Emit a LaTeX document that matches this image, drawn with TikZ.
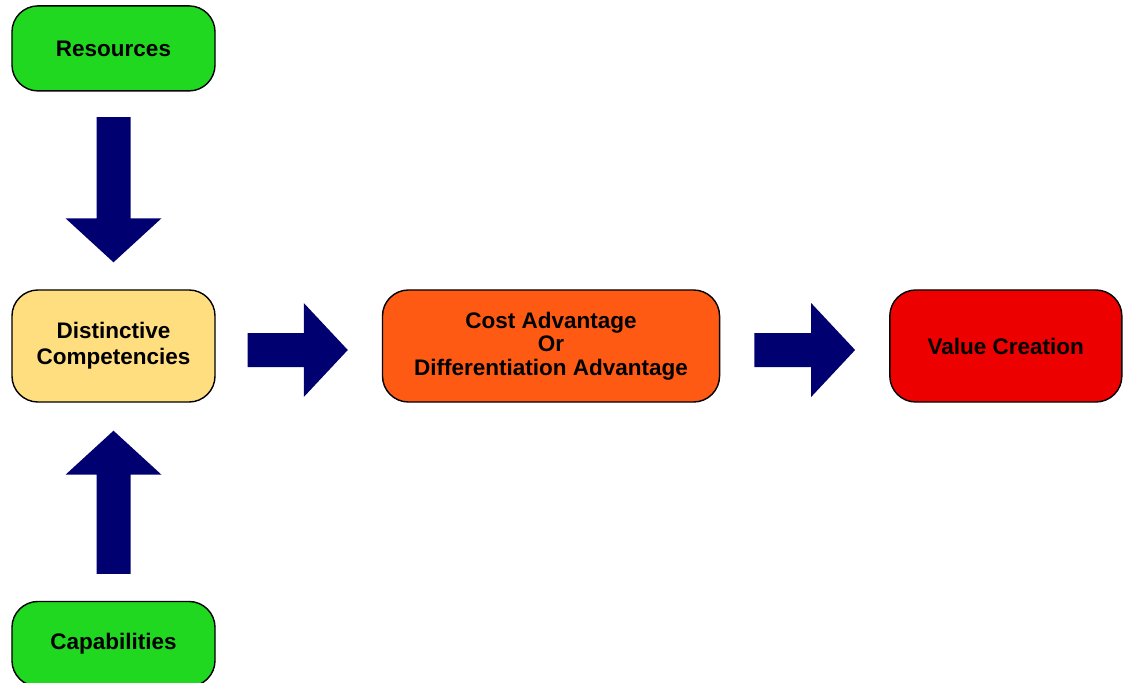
\documentclass[tikz,border=0pt]{standalone}
\usepackage{fontspec}
\setmainfont{Liberation Sans}
\usetikzlibrary{positioning,calc}
\definecolor{resgreen}{RGB}{32,216,32}
\definecolor{compyellow}{RGB}{255,222,128}
\definecolor{advorange}{RGB}{255,90,20}
\definecolor{valred}{RGB}{236,0,0}
\definecolor{arrownavy}{RGB}{0,0,112}
\tikzset{
  basic/.style     = {draw, line width=1pt, rounded corners=0.65cm, align=center,
                      minimum width=5.075cm, minimum height=2.8cm},
  resource/.style  = {basic, fill=resgreen, minimum height=2.125cm,
                      font=\fontsize{16}{18}\selectfont\bfseries},
  competence/.style = {basic, fill=compyellow,
                      font=\fontsize{16}{18.5}\selectfont\bfseries},
  advantage/.style = {basic, fill=advorange, minimum width=8.425cm,
                      font=\fontsize{16}{16.8}\selectfont\bfseries},
  value/.style     = {basic, fill=valred, minimum width=5.8cm,
                      font=\fontsize{16}{18}\selectfont\bfseries},
  blockarrow/.style = {fill=arrownavy}
}

\begin{document}
\begin{tikzpicture}[x=0.025cm, y=-0.025cm]
\useasboundingbox (0,0) rectangle (1125,683);

% the middle row, left to right
\node[competence] (dc) at (113.5,346) {Distinctive\\Competencies};
\node[advantage, right=4.15cm of dc] (adv) {Cost Advantage\\Or\\Differentiation Advantage};
\node[value, right=4.22cm of adv] (val) {Value Creation};

% the inputs, above and below
\node[resource, above=4.94cm of dc] (res) {Resources};
\node[resource, below=4.95cm of dc] (cap) {Capabilities};

% ends of the block arrows
\coordinate (d1) at ($(res.south)+(0,25.5)$);
\coordinate (d2) at ($(dc.north)+(0,-27)$);
\coordinate (u1) at ($(cap.north)+(0,-27)$);
\coordinate (u2) at ($(dc.south)+(0,28)$);
\coordinate (r1) at ($(dc.east)+(32,4)$);
\coordinate (r2) at ($(adv.west)+(-34,4)$);
\coordinate (s1) at ($(adv.east)+(34,4)$);
\coordinate (s2) at ($(val.west)+(-34,4)$);

% Resources down to the competencies
\fill[blockarrow] ($(d1)+(-17,0)$) -- ($(d1)+(17,0)$) -- ($(d2)+(17,-44)$)
  -- ($(d2)+(48,-44)$) -- (d2) -- ($(d2)+(-48,-44)$) -- ($(d2)+(-17,-44)$) -- cycle;

% Capabilities up to the competencies
\fill[blockarrow] ($(u1)+(-17,0)$) -- ($(u1)+(17,0)$) -- ($(u2)+(17,44)$)
  -- ($(u2)+(48,44)$) -- (u2) -- ($(u2)+(-48,44)$) -- ($(u2)+(-17,44)$) -- cycle;

% competencies to advantage, advantage to value
\fill[blockarrow] ($(r1)+(0,-17)$) -- ($(r1)+(0,17)$) -- ($(r2)+(-44,17)$)
  -- ($(r2)+(-44,47)$) -- (r2) -- ($(r2)+(-44,-47)$) -- ($(r2)+(-44,-17)$) -- cycle;
\fill[blockarrow] ($(s1)+(0,-17)$) -- ($(s1)+(0,17)$) -- ($(s2)+(-44,17)$)
  -- ($(s2)+(-44,47)$) -- (s2) -- ($(s2)+(-44,-47)$) -- ($(s2)+(-44,-17)$) -- cycle;

\end{tikzpicture}
\end{document}
